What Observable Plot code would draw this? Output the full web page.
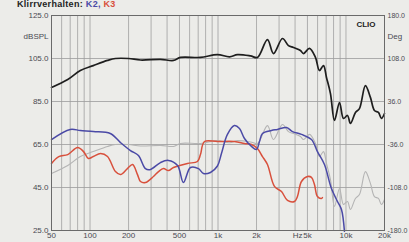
<!DOCTYPE html>
<html><head><meta charset="utf-8">
<script src="https://cdn.jsdelivr.net/npm/d3@7"></script>
<script src="https://cdn.jsdelivr.net/npm/@observablehq/plot@0.6"></script>
<style>
html,body{margin:0;padding:0;background:#ecece9;overflow:hidden;}
#wrap{position:relative;width:409px;height:242px;overflow:hidden;}
#title{position:absolute;top:0px;left:17px;font:bold 9px/9px "Liberation Sans",Arial,sans-serif;color:#222;white-space:nowrap;letter-spacing:0.3px;}
#title .k2{color:#4b4aa6}#title .k3{color:#d8503c}
</style></head><body>
<div id="wrap"><div id="title">Klirrverhalten: <span class="k2">K2,</span> <span class="k3">K3</span></div><div id="chart"></div></div>
<script>
// axis definitions
const freqTicks = [50,100,200,500,1000,2000,5000,10000,20000];
const freqLabels = ["50","100","200","500","1k","2k","5k","10k","20k"];
const gridFreqs = [50,60,70,80,90,100,200,300,400,500,600,700,800,900,1000,2000,3000,4000,5000,6000,7000,8000,9000,10000,20000];
const splTicks = [125,105,85,65,45,25];
const splLabels = ["125.0","105.0","85.0","65.0","45.0","25.0"];
const degLabels = ["180.0","108.0","36.0","-36.0","-108.0","-180.0"];

// black: frequency response (dBSPL)
const respFreq = [50,67,84,106,137,158,200,248,355,449,509,729,990,1230,1420,1795,2034,2435,2713,3190,3553,3890,4410,4655,5185,5775,6205,6670,7040,7565,8130,8900,9560,10270,10840,11860,12740,14190,15520,16690,17930,18930,20000];
const respDb   = [91.5,95.2,99.4,101.7,104.1,105,105,104.3,104.6,104.1,105.5,105.5,106.8,105.8,106.8,106.2,105.5,113.8,107.3,114.3,111,110.1,108.7,107.3,109.7,105.5,99.4,101.7,96.2,88.7,76.2,84.5,77.1,78.5,74.8,79.9,81.7,92.4,86.9,80.8,79.9,77.1,79.4];

// gray: reference curve (-40 dB)
const refFreq = [50,67,84,106,137,158,200,248,355,449,509,729,990,1230,1420,1795,2034,2435,2713,3190,3553,3890,4410,4655,5185,5775,6205,6670,7040,7565,8130,8900,9560,10270,10840,11860,12740,14190,15520,16690,17930,18930,20000];
const refDb   = [51.5,55.2,59.4,61.7,64.1,65,65,64.3,64.6,64.1,65.5,65.5,66.8,65.8,66.8,66.2,65.5,73.8,67.3,74.3,71,70.1,68.7,67.3,69.7,65.5,59.4,61.7,56.2,48.7,36.2,44.5,37.1,38.5,34.8,39.9,41.7,52.4,46.9,40.8,39.9,37.1,39.4];

// blue: K2
const k2Freq = [50,70,84,106,144,173,207,239,271,297,355,410,483,537,609,704,770,873,990,1064,1185,1345,1472,1610,1826,1998,2110,2226,2617,2917,3428,3821,4490,5375,5985,6790,7700,8580,9220,9730];
const k2Db   = [67.3,72,71.5,71,70.1,65.9,62.2,59.9,53.8,53.4,56.6,57.6,55.2,47.3,54.3,53.8,51.5,52,55,60.8,69.7,73.8,72.4,67.8,64.1,62.7,66.4,70.1,71.5,72,72.9,71,69.7,67.3,61.7,55.7,44.5,38.5,34.8,24.6];

// red: K3
const k3Freq = [50,57,67,80,89,97,106,121,137,158,173,196,215,235,248,271,313,343,375,410,449,577,691,729,784,990,1345,1610,1826,2034,2226,2435,2762,3135,3490,3956,4176,4490,5000,5375,5672,5985,6432,6547];
const k3Db   = [56.2,59.4,60.3,63.6,61.7,58.5,59.4,60.8,59.4,52.4,51,53.8,55.7,51,47.8,47.3,50.1,52.4,53.8,52.9,54.3,56.2,57.1,60.3,66.4,66.4,66.4,65.5,65,63.1,59.4,55.7,45.5,43.1,39,38.5,40.8,47.8,50.1,49.7,46.4,40.8,39.9,40.3];

const toRows = (fs, vs) => fs.map((f, i) => ({f, v: vs[i]}));
const resp = toRows(respFreq, respDb);
const ref = toRows(refFreq, refDb);
const k2 = toRows(k2Freq, k2Db);
const k3 = toRows(k3Freq, k3Db);
const xLabels = freqTicks.map((f, i) => ({f, label: freqLabels[i]}));

const font = "'Liberation Sans', Arial, sans-serif";
const labelColor = "#4a4a52";
const chart = Plot.plot({
  width: 409, height: 242,
  marginLeft: 51, marginRight: 25, marginTop: 15, marginBottom: 12,
  style: {background: "transparent", fontFamily: font, fontSize: "8px", color: labelColor, overflow: "visible"},
  x: {type: "log", domain: [50, 20000], axis: null},
  y: {domain: [25, 125], axis: null},
  marks: [
    Plot.ruleX(gridFreqs, {stroke: "#a0a0a0", strokeWidth: 0.8}),
    Plot.ruleY(splTicks, {stroke: "#9c9c9c", strokeWidth: 0.8}),
    Plot.line(ref, {x: "f", y: "v", stroke: "#b4b4b4", strokeWidth: 1.1, curve: "catmull-rom"}),
    Plot.line(k3, {x: "f", y: "v", stroke: "#d8503c", strokeWidth: 1.5, curve: "catmull-rom"}),
    Plot.line(k2, {x: "f", y: "v", stroke: "#4b4aa6", strokeWidth: 1.5, curve: "catmull-rom"}),
    Plot.line(resp, {x: "f", y: "v", stroke: "#1e1e1e", strokeWidth: 1.7, curve: "catmull-rom"}),
    Plot.frame({stroke: "#6a6a6a", strokeWidth: 1}),
    Plot.text(xLabels, {x: "f", text: "label", frameAnchor: "bottom", dy: 7, fill: labelColor}),
    Plot.text(splTicks, {y: d => d, frameAnchor: "left", dx: -3, textAnchor: "end", fill: labelColor, text: (d, i) => splLabels[i]}),
    Plot.text(splTicks, {y: d => d, frameAnchor: "right", dx: 3, textAnchor: "start", fontSize: 7, fill: labelColor, text: (d, i) => degLabels[i]}),
    Plot.text(["dBSPL"], {frameAnchor: "top-left", dx: -3, dy: 18, textAnchor: "end", fill: labelColor, text: d => d}),
    Plot.text(["Deg"], {frameAnchor: "top-right", dx: 3, dy: 18, textAnchor: "start", fill: labelColor, text: d => d}),
    Plot.text(["Hz"], {x: 5000, frameAnchor: "bottom", dx: -5, dy: 7, textAnchor: "end", fill: labelColor, text: d => d}),
    Plot.text(["CLIO"], {frameAnchor: "top-right", dx: -9, dy: 6, fontWeight: "bold", fill: "#222", text: d => d})
  ]
});
document.getElementById("chart").append(chart);
</script>
</body></html>
